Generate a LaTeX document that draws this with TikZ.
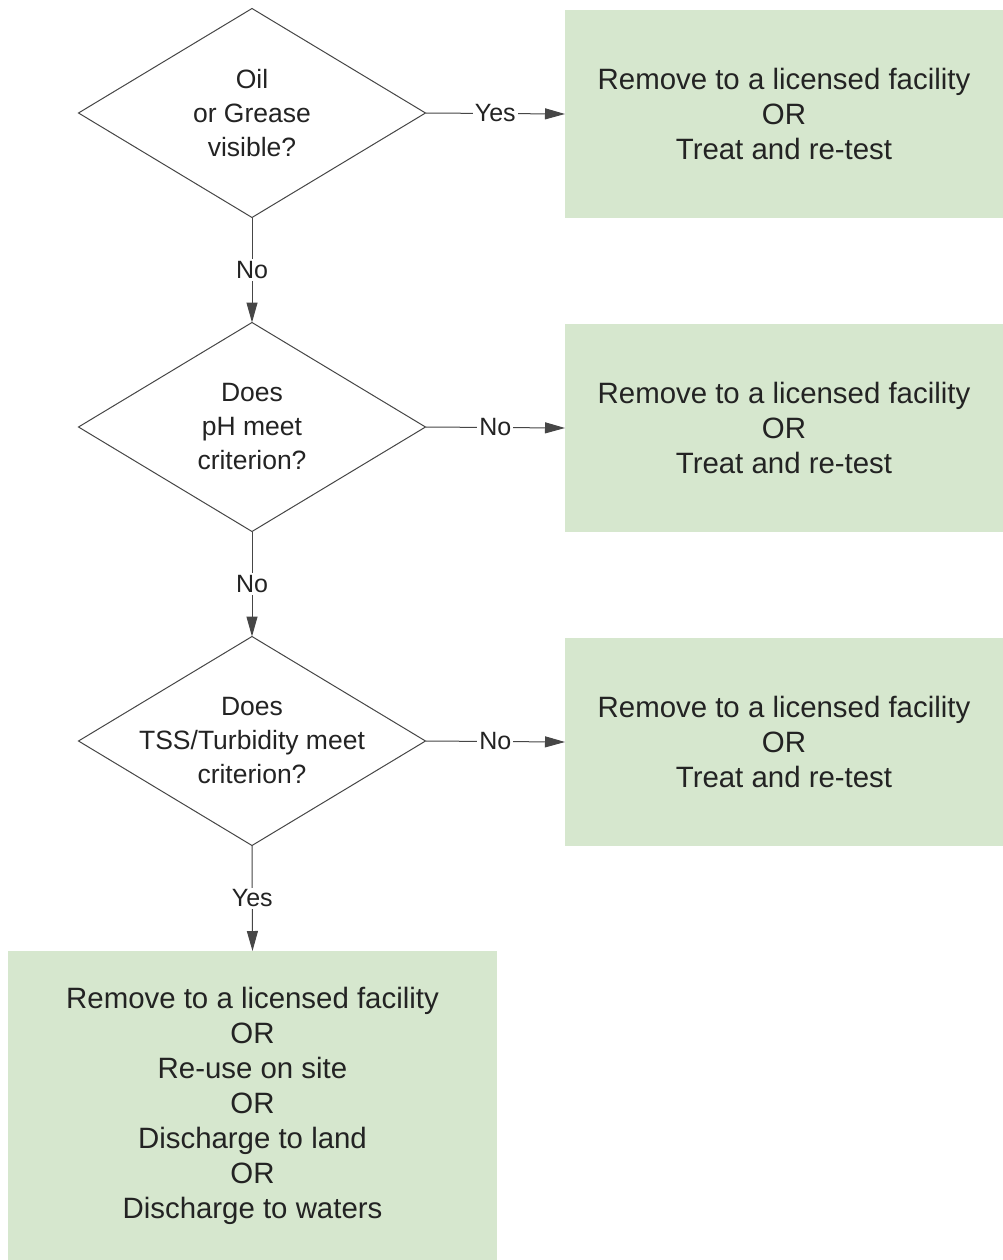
\documentclass[tikz,border=0pt]{standalone}
\usepackage{fontspec}
\setmainfont{Liberation Sans}
\usetikzlibrary{shapes.geometric,arrows.meta}
\definecolor{boxgreen}{RGB}{214,231,206}
\definecolor{linegray}{RGB}{70,70,70}
\definecolor{txt}{RGB}{35,35,35}
\tikzset{
  dia/.style={shape=diamond, draw=linegray, line width=1pt, minimum width=347pt, minimum height=209pt, inner sep=0pt, outer sep=0pt},
  dtext/.style={align=center, text=txt, font=\fontsize{26.5}{34}\selectfont},
  gbox/.style={fill=boxgreen, draw=none, align=center, text=txt, inner sep=0pt, outer sep=0pt, font=\fontsize{29.4}{35}\selectfont},
  conn/.style={draw=linegray, line width=1pt, -{Triangle[length=20pt,width=11pt]}},
  lab/.style={fill=white, inner sep=2pt, text=txt, font=\fontsize{25}{30}\selectfont}
}
\begin{document}
\begin{tikzpicture}[x=1pt,y=1pt]
\useasboundingbox[fill=white] (0,0) rectangle (1003,-1260);
% diamonds
\node[dia] (d1) at (252,-113) {};
\node[dtext] (t1) at (d1.center) {Oil\\or Grease\\visible?};
\node[dia] (d2) at (252,-427) {};
\node[dtext] (t2) at (d2.center) {Does\\pH meet\\criterion?};
\node[dia] (d3) at (252,-741) {};
\node[dtext] (t3) at (d3.center) {Does\\TSS/Turbidity meet\\criterion?};
% boxes
\node[gbox, minimum width=438pt, minimum height=208pt] (b1) at (784,-114) {Remove to a licensed facility\\OR\\Treat and re-test};
\node[gbox, minimum width=438pt, minimum height=208pt] (b2) at (784,-428) {Remove to a licensed facility\\OR\\Treat and re-test};
\node[gbox, minimum width=438pt, minimum height=208pt] (b3) at (784,-742) {Remove to a licensed facility\\OR\\Treat and re-test};
\node[gbox, minimum width=489pt, minimum height=309pt] (b4) at (252.5,-1105.5) {Remove to a licensed facility\\OR\\Re-use on site\\OR\\Discharge to land\\OR\\Discharge to waters};
% connectors
\draw[conn] (d1.east) -- node[lab]{Yes} (b1.west);
\draw[conn] (d2.east) -- node[lab]{No} (b2.west);
\draw[conn] (d3.east) -- node[lab]{No} (b3.west);
\draw[conn] (d1.south) -- node[lab]{No} (d2.north);
\draw[conn] (d2.south) -- node[lab]{No} (d3.north);
\draw[conn] (d3.south) -- node[lab]{Yes} (b4.north);
\end{tikzpicture}
\end{document}
